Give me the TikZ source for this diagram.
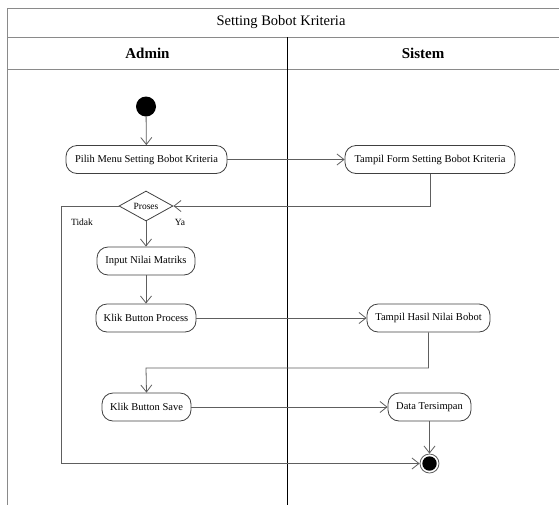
\documentclass[tikz,border=0pt]{standalone}
\usepackage{fontspec}
\setmainfont{Liberation Serif}
\usetikzlibrary{arrows.meta,shapes.geometric,calc}
\definecolor{linegray}{HTML}{5E5E5E}
\definecolor{boxgray}{HTML}{404040}
\definecolor{framegray}{HTML}{8A8A8A}
\tikzset{
  act/.style={draw=boxgray, line width=0.8pt, rounded corners=11pt, minimum height=28pt,
    inner xsep=3pt, font=\fontsize{10.5}{12}\selectfont, align=center},
  flow/.style={draw=linegray, line width=0.8pt, -{Straight Barb[length=7pt,width=11pt]}},
  guard/.style={font=\fontsize{9.5}{11}\selectfont, inner sep=0pt},
  lane/.style={draw=framegray, line width=0.9pt},
}
\begin{document}
\begin{tikzpicture}[x=1pt,y=-1pt]
\useasboundingbox (0,0) rectangle (559,504);
% swimlane frame
\draw[lane] (7.5,520) -- (7.5,8) -- (562,8);
\draw[lane] (7.5,37) -- (562,37);
\draw[lane] (7.5,69) -- (562,69);
\draw[line width=1pt, black] (287,37) -- (287,520);
\node[font=\fontsize{14.5}{16}\selectfont] (title) at (281,22.5) {Setting Bobot Kriteria};
\node[font=\fontsize{15}{17}\selectfont\bfseries] (hadmin) at (147.5,53) {Admin};
\node[font=\fontsize{15}{17}\selectfont\bfseries] (hsistem) at (423,53) {Sistem};

% activities
\node[circle, fill=black, minimum size=20pt, inner sep=0pt] (start) at (146,106.5) {};
\node[act, minimum width=161pt] (pilih) at (146.5,159.5) {Pilih Menu Setting Bobot Kriteria};
\node[act, minimum width=170pt] (tform) at (430,159.5) {Tampil Form Setting Bobot Kriteria};
\node[diamond, draw=boxgray, line width=0.8pt, aspect=1.8, minimum width=54pt, minimum height=30pt,
  inner sep=0pt, font=\fontsize{9.5}{10}\selectfont] (dec) at (146,206) {Proses};
\node[act, minimum width=98pt] (input) at (146,261) {Input Nilai Matriks};
\node[act, minimum width=100pt] (process) at (146,318) {Klik Button Process};
\node[act, minimum width=123pt] (hasil) at (428.5,318) {Tampil Hasil Nilai Bobot};
\node[act, minimum width=89pt] (save) at (146.5,407) {Klik Button Save};
\node[act, minimum width=83pt] (data) at (429.5,407) {Data Tersimpan};
\node[circle, draw=linegray, line width=0.8pt, minimum size=19pt, inner sep=0pt] (final) at (429.5,463.5) {};
\fill[black] (final.center) circle (7.2pt);

\node[guard] (tidak) at (82,222) {Tidak};
\node[guard] (ya) at (180,222) {Ya};

% flows
\coordinate (ltop) at (61,206);
\coordinate (lbot) at (61,463.5);
\coordinate (bend) at (146,368);
\draw[flow] (start) -- (pilih);
\draw[flow] (pilih.east) -- (tform.west);
\draw[flow] (tform.south) |- (dec.east);
\draw[flow] (dec.west) -- (ltop) -- (lbot) -- (final.west);
\draw[flow] (dec.south) -- (input.north);
\draw[flow] (input.south) -- (process.north);
\draw[flow] (process.east) -- (hasil.west);
\draw[flow] (hasil.south) |- (bend) -- (save.north);
\draw[flow] (save.east) -- (data.west);
\draw[flow] (data.south) -- (final.north);
\end{tikzpicture}
\end{document}
